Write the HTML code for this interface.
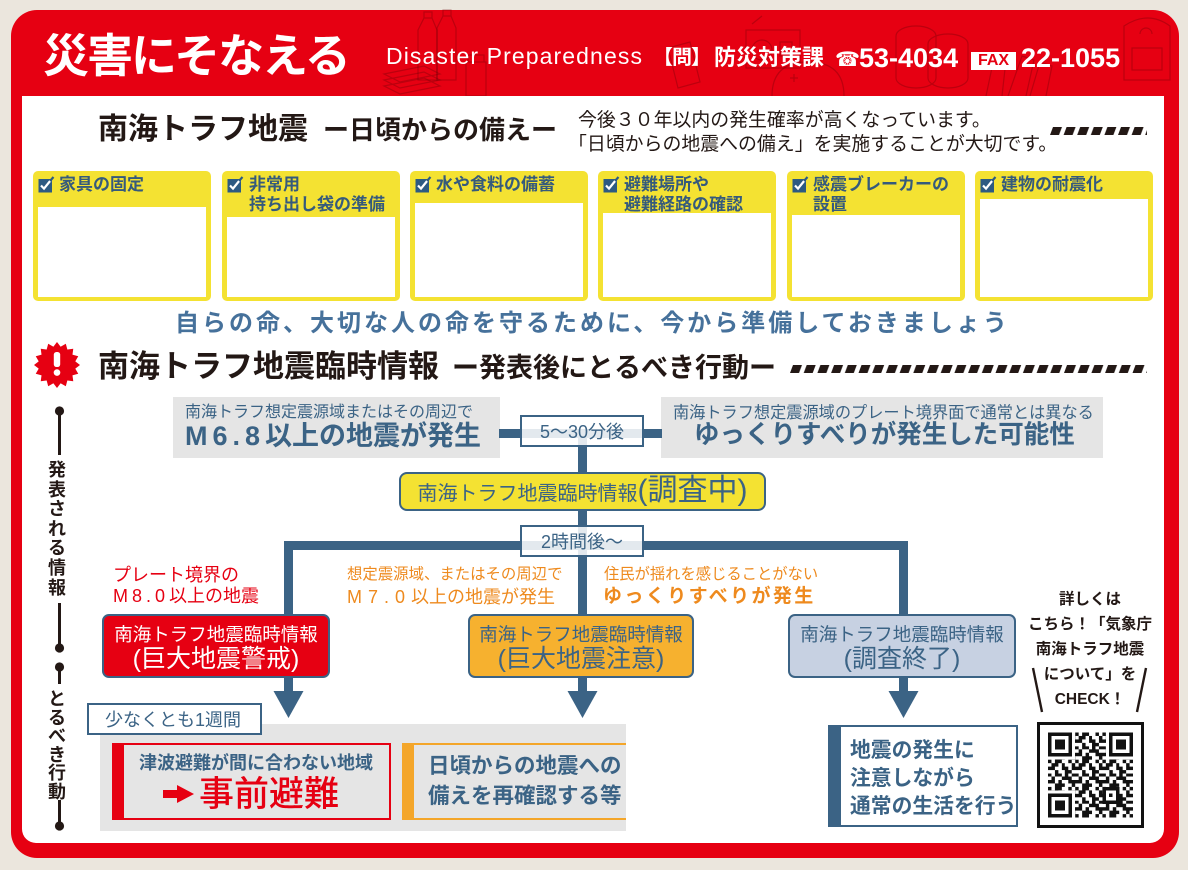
<!DOCTYPE html>
<html><head><meta charset="utf-8">
<style>
*{margin:0;padding:0;box-sizing:border-box}
body{width:1188px;height:870px;background:#ebe6dd;overflow:hidden;font-family:"Liberation Sans","Noto Sans CJK JP",sans-serif}
#w{position:relative;width:1188px;height:870px;overflow:hidden;background:#ebe6dd}
.a{position:absolute;white-space:nowrap;line-height:1}
.b{font-weight:700}
.B{color:#3b6385}
.k{color:#231815}
.ln{position:absolute;background:#3b6385}
.yb{position:absolute;top:171px;width:178px;height:130px;background:#f4e232;border-radius:5px}
.yw{position:absolute;left:5px;right:5px;bottom:4px;background:#fff}
.lab{position:absolute;top:175px;font-size:17px;line-height:20px;font-weight:700;color:#355a7c;white-space:nowrap}
.ck{position:absolute;top:176px}
.lbl{position:absolute;width:124px;height:32px;border:2px solid #3b6385;background:rgba(255,255,255,.86);font-size:18px;line-height:28px;padding-top:1px;text-align:center;color:#3b6385;white-space:nowrap}
.cb{position:absolute;top:614px;height:64px;border:2.5px solid #3b6385;border-radius:7px}
.ct{position:absolute;text-align:center;white-space:nowrap;line-height:1}
</style></head><body><div id="w">

<!-- red frame -->
<div class="a" style="left:11px;top:10px;width:1168px;height:848px;background:#e60012;border-radius:26px"></div>

<!-- faint header illustrations -->
<svg class="a" style="left:0;top:0" width="1188" height="100" fill="none" stroke="rgba(110,0,10,0.35)" stroke-width="1.2">
<path d="M418 30 l6 -12 h8 l5 12 v50 h-19z M424 18 v-6 h8 v6"/>
<path d="M437 28 l6 -12 h8 l5 12 v52 h-19z M443 16 v-6 h8 v6"/>
<path d="M384 74 l40 -8 l16 8 l-40 8z M384 80 l40 -8 l16 8 l-40 8z M384 86 l40 -8 l16 8 l-40 8z"/>
<path d="M466 62 h20 v34 h-20z M468 55 h16 v7 h-16z"/>
<path d="M668 48 l22 -6 l10 40 l-22 6z"/>
<path d="M746 30 h54 v38 h-54z M752 24 l10 -8 M780 42 h12 v14 h-12z"/>
<circle cx="762" cy="50" r="10"/>
<path d="M772 96 q0 -34 36 -34 q36 0 36 34 M790 78 h8 M794 74 v8"/>
<path d="M896 36 a10 5 0 0 1 40 0 v42 a10 5 0 0 1 -40 0z M928 44 a10 5 0 0 1 40 0 v34 a10 5 0 0 1 -40 0z"/>
<path d="M986 96 l8 -38 l12 2 l-4 36 M1008 96 l14 -40 l12 4 l-8 36 M1030 96 l10 -34 l12 4 l-6 30"/>
<path d="M1124 26 q24 -16 46 0 v54 h-46z M1132 48 h30 v22 h-30z M1140 34 a6 6 0 0 1 12 0"/>
</svg>

<!-- header text -->
<div class="a b" style="left:43px;top:33px;font-size:46px;letter-spacing:-2px;color:#fff">災害にそなえる</div>
<div class="a" style="left:386px;top:45px;font-size:23px;letter-spacing:1.1px;color:#fff">Disaster Preparedness</div>
<div class="a b" style="left:653px;top:48px;font-size:20px;color:#fff;letter-spacing:-1px">【問】</div>
<div class="a b" style="left:714px;top:47px;font-size:22px;color:#fff">防災対策課</div>
<div class="a" style="left:835px;top:49px;font-size:20px;color:#fff;font-family:'DejaVu Sans',sans-serif">☎</div>
<div class="a b" style="left:859px;top:45px;font-size:27px;color:#fff">53-4034</div>
<div class="a b" style="left:971px;top:52px;width:45px;height:18px;background:#fff;color:#e60012;font-size:16px;line-height:18px;text-align:center">FAX</div>
<div class="a b" style="left:1021px;top:45px;font-size:27px;color:#fff">22-1055</div>

<!-- white panel -->
<div class="a" style="left:22px;top:96px;width:1142px;height:747px;background:#fff;border-radius:0 0 14px 14px"></div>

<!-- section 1 title -->
<div class="a b k" style="left:98px;top:115px;font-size:30px">南海トラフ地震<span style="font-size:26px;margin-left:15px">ー日頃からの備えー</span></div>
<div class="a k" style="left:578px;top:112px;font-size:18.9px">今後３０年以内の発生確率が高くなっています。</div>
<div class="a k" style="left:568px;top:136px;font-size:18.9px">「日頃からの地震への備え」を実施することが大切です。</div>
<svg class="a" style="left:1050px;top:127px" width="100" height="9"><defs><pattern id="st1" width="13.6" height="9" patternUnits="userSpaceOnUse"><polygon points="3,0 12,0 9,8 0,8" fill="#231815"/></pattern></defs><rect width="97" height="9" fill="url(#st1)"/></svg>

<!-- yellow boxes -->
<div class="yb" style="left:33px"><div class="yw" style="top:36px"></div></div>
<div class="yb" style="left:222px"><div class="yw" style="top:46px"></div></div>
<div class="yb" style="left:410px"><div class="yw" style="top:32px"></div></div>
<div class="yb" style="left:598px"><div class="yw" style="top:42px"></div></div>
<div class="yb" style="left:787px"><div class="yw" style="top:44px"></div></div>
<div class="yb" style="left:975px"><div class="yw" style="top:28px"></div></div>

<svg class="ck" style="left:38px" width="17" height="17" viewBox="0 0 17 17"><rect x="0.5" y="3" width="13.5" height="13.5" fill="#2d5a82"/><path d="M3 9.5 L6 12.6 L12.5 4.5" stroke="#fff" stroke-width="2.2" fill="none"/><path d="M12 5 L15.5 1" stroke="#2d5a82" stroke-width="2.2"/></svg>
<svg class="ck" style="left:227px" width="17" height="17" viewBox="0 0 17 17"><rect x="0.5" y="3" width="13.5" height="13.5" fill="#2d5a82"/><path d="M3 9.5 L6 12.6 L12.5 4.5" stroke="#fff" stroke-width="2.2" fill="none"/><path d="M12 5 L15.5 1" stroke="#2d5a82" stroke-width="2.2"/></svg>
<svg class="ck" style="left:415px" width="17" height="17" viewBox="0 0 17 17"><rect x="0.5" y="3" width="13.5" height="13.5" fill="#2d5a82"/><path d="M3 9.5 L6 12.6 L12.5 4.5" stroke="#fff" stroke-width="2.2" fill="none"/><path d="M12 5 L15.5 1" stroke="#2d5a82" stroke-width="2.2"/></svg>
<svg class="ck" style="left:603px" width="17" height="17" viewBox="0 0 17 17"><rect x="0.5" y="3" width="13.5" height="13.5" fill="#2d5a82"/><path d="M3 9.5 L6 12.6 L12.5 4.5" stroke="#fff" stroke-width="2.2" fill="none"/><path d="M12 5 L15.5 1" stroke="#2d5a82" stroke-width="2.2"/></svg>
<svg class="ck" style="left:792px" width="17" height="17" viewBox="0 0 17 17"><rect x="0.5" y="3" width="13.5" height="13.5" fill="#2d5a82"/><path d="M3 9.5 L6 12.6 L12.5 4.5" stroke="#fff" stroke-width="2.2" fill="none"/><path d="M12 5 L15.5 1" stroke="#2d5a82" stroke-width="2.2"/></svg>
<svg class="ck" style="left:980px" width="17" height="17" viewBox="0 0 17 17"><rect x="0.5" y="3" width="13.5" height="13.5" fill="#2d5a82"/><path d="M3 9.5 L6 12.6 L12.5 4.5" stroke="#fff" stroke-width="2.2" fill="none"/><path d="M12 5 L15.5 1" stroke="#2d5a82" stroke-width="2.2"/></svg>

<div class="lab" style="left:59px">家具の固定</div>
<div class="lab" style="left:249px">非常用<br>持ち出し袋の準備</div>
<div class="lab" style="left:436px">水や食料の備蓄</div>
<div class="lab" style="left:624px">避難場所や<br>避難経路の確認</div>
<div class="lab" style="left:813px">感震ブレーカーの<br>設置</div>
<div class="lab" style="left:1001px">建物の耐震化</div>

<!-- tagline -->
<div class="a b" style="left:175px;top:312px;font-size:24px;letter-spacing:3px;color:#46719b">自らの命、大切な人の命を守るために、今から準備しておきましょう</div>

<!-- section 2 title -->
<svg class="a" style="left:33px;top:341px" width="48" height="48" viewBox="-24 -24 48 48">
<circle r="18" fill="#e60012"/>
<g fill="#e60012">
<polygon points="-4.6,-17 0,-23 4.6,-17"/>
<polygon points="-4.6,-17 0,-23 4.6,-17" transform="rotate(22.5)"/>
<polygon points="-4.6,-17 0,-23 4.6,-17" transform="rotate(45)"/>
<polygon points="-4.6,-17 0,-23 4.6,-17" transform="rotate(67.5)"/>
<polygon points="-4.6,-17 0,-23 4.6,-17" transform="rotate(90)"/>
<polygon points="-4.6,-17 0,-23 4.6,-17" transform="rotate(112.5)"/>
<polygon points="-4.6,-17 0,-23 4.6,-17" transform="rotate(135)"/>
<polygon points="-4.6,-17 0,-23 4.6,-17" transform="rotate(157.5)"/>
<polygon points="-4.6,-17 0,-23 4.6,-17" transform="rotate(180)"/>
<polygon points="-4.6,-17 0,-23 4.6,-17" transform="rotate(202.5)"/>
<polygon points="-4.6,-17 0,-23 4.6,-17" transform="rotate(225)"/>
<polygon points="-4.6,-17 0,-23 4.6,-17" transform="rotate(247.5)"/>
<polygon points="-4.6,-17 0,-23 4.6,-17" transform="rotate(270)"/>
<polygon points="-4.6,-17 0,-23 4.6,-17" transform="rotate(292.5)"/>
<polygon points="-4.6,-17 0,-23 4.6,-17" transform="rotate(315)"/>
<polygon points="-4.6,-17 0,-23 4.6,-17" transform="rotate(337.5)"/>
</g>
<rect x="-3.2" y="-13" width="6.4" height="15" rx="2.6" fill="#fff"/>
<circle cy="7.6" r="3.3" fill="#fff"/>
</svg>
<div class="a b k" style="left:98px;top:351px;font-size:31px">南海トラフ地震臨時情報<span style="font-size:27px;margin-left:13px">ー発表後にとるべき行動ー</span></div>
<svg class="a" style="left:790px;top:365px" width="360" height="9"><defs><pattern id="st2" width="13.7" height="9" patternUnits="userSpaceOnUse"><polygon points="3,0 12,0 9,8 0,8" fill="#231815"/></pattern></defs><rect width="357" height="9" fill="url(#st2)"/></svg>

<!-- timeline -->
<svg class="a" style="left:0;top:0" width="100" height="870">
<g stroke="#231815" stroke-width="3"><line x1="59.5" y1="411" x2="59.5" y2="455"/><line x1="59.5" y1="603" x2="59.5" y2="648"/><line x1="59.5" y1="667" x2="59.5" y2="684"/><line x1="59.5" y1="800" x2="59.5" y2="826"/></g>
<g fill="#231815"><circle cx="59.5" cy="411" r="4.6"/><circle cx="59.5" cy="648" r="4.6"/><circle cx="59.5" cy="667" r="4.6"/><circle cx="59.5" cy="826" r="4.6"/></g>
</svg>
<div class="a b k" style="left:46px;top:461px;width:22px;font-size:18px;line-height:19.6px;text-align:center;white-space:normal">発<br>表<br>さ<br>れ<br>る<br>情<br>報</div>
<div class="a b k" style="left:46px;top:690px;width:22px;font-size:18px;line-height:18.6px;text-align:center;white-space:normal">と<br>る<br>べ<br>き<br>行<br>動</div>

<!-- flowchart top -->
<div class="a" style="left:173px;top:397px;width:327px;height:61px;background:#e5e5e5"></div>
<div class="a" style="left:661px;top:397px;width:442px;height:61px;background:#e5e5e5"></div>
<div class="a B" style="left:185px;top:405px;font-size:16px">南海トラフ想定震源域またはその周辺で</div>
<div class="a B b" style="left:185px;top:423px;font-size:27px"><span style="letter-spacing:5px">M6.8</span>以上の地震が発生</div>
<div class="a B" style="left:673px;top:405px;font-size:16.2px">南海トラフ想定震源域のプレート境界面で通常とは異なる</div>
<div class="a B b" style="left:694px;top:423px;font-size:25.5px">ゆっくりすべりが発生した可能性</div>

<div class="ln" style="left:499px;top:429px;width:163px;height:9px"></div>
<div class="ln" style="left:578px;top:438px;width:9px;height:34px"></div>
<div class="ln" style="left:578px;top:511px;width:9px;height:30px"></div>
<div class="ln" style="left:284px;top:541px;width:624px;height:9px"></div>
<div class="ln" style="left:284px;top:541px;width:9px;height:73px"></div>
<div class="ln" style="left:578px;top:541px;width:9px;height:73px"></div>
<div class="ln" style="left:899px;top:541px;width:9px;height:73px"></div>
<div class="ln" style="left:284px;top:678px;width:9px;height:15px"></div>
<div class="ln" style="left:578px;top:678px;width:9px;height:15px"></div>
<div class="ln" style="left:899px;top:678px;width:9px;height:15px"></div>
<svg class="a" style="left:0;top:0" width="1188" height="870" fill="#3b6385"><polygon points="273.5,691 303.5,691 288.5,718"/><polygon points="567.5,691 597.5,691 582.5,718"/><polygon points="888.5,691 918.5,691 903.5,718"/></svg>

<div class="lbl" style="left:520px;top:415px">5〜30分後</div>
<div class="a" style="left:399px;top:472px;width:367px;height:39px;border:2.5px solid #3b6385;border-radius:8px;background:#f4e232"></div>
<div class="ct B" style="left:399px;top:476px;width:367px;font-size:30px">
<span style="font-size:20px">南海トラフ地震臨時情報</span>(調査中)</div>
<div class="lbl" style="left:520px;top:525px">2時間後〜</div>

<!-- condition texts -->
<div class="a" style="left:113px;top:566px;font-size:18px;color:#e60012">プレート境界の</div>
<div class="a" style="left:113px;top:587px;font-size:18px;color:#e60012"><span style="letter-spacing:4px">M8.0</span>以上の地震</div>
<div class="a" style="left:347px;top:567px;font-size:15.4px;color:#ee8a1e">想定震源域、またはその周辺で</div>
<div class="a" style="left:347px;top:588px;font-size:18px;color:#ee8a1e"><span style="letter-spacing:6px">M7.0</span>以上の地震が発生</div>
<div class="a" style="left:604px;top:567px;font-size:15.3px;color:#ee8a1e">住民が揺れを感じることがない</div>
<div class="a b" style="left:603px;top:587px;font-size:19px;letter-spacing:2.4px;color:#ee8a1e">ゆっくりすべりが発生</div>

<!-- info boxes -->
<div class="cb" style="left:102px;width:228px;background:#e60012"></div>
<div class="cb" style="left:468px;width:226px;background:#f6b12f"></div>
<div class="cb" style="left:788px;width:228px;background:#c7d1e2"></div>
<div class="ct" style="left:102px;top:626px;width:228px;font-size:18.5px;color:#fff">南海トラフ地震臨時情報</div>
<div class="ct" style="left:102px;top:647px;width:228px;font-size:25px;color:#fff">(巨大地震警戒)</div>
<div class="ct B" style="left:468px;top:626px;width:226px;font-size:18.5px">南海トラフ地震臨時情報</div>
<div class="ct B" style="left:468px;top:647px;width:226px;font-size:25px">(巨大地震注意)</div>
<div class="ct B" style="left:788px;top:626px;width:228px;font-size:18.5px">南海トラフ地震臨時情報</div>
<div class="ct B" style="left:788px;top:647px;width:228px;font-size:25px">(調査終了)</div>

<!-- actions -->
<div class="a" style="left:100px;top:724px;width:526px;height:107px;background:#e5e5e5"></div>
<div class="a" style="left:87px;top:703px;width:175px;height:32px;border:2px solid #3b6385;background:#fff"></div>
<div class="a B" style="left:105px;top:711px;font-size:18px">少なくとも1週間</div>

<div class="a" style="left:112px;top:743px;width:279px;height:77px;border:2px solid #e60012;border-left:12px solid #e60012"></div>
<div class="a B b" style="left:139px;top:754px;font-size:18px">津波避難が間に合わない地域</div>
<svg class="a" style="left:160px;top:782px" width="38" height="24" fill="#e60012"><rect x="3" y="8" width="16" height="8"/><polygon points="17,3 34,12 17,21"/></svg>
<div class="a" style="left:199px;top:777px;font-size:35px;font-weight:500;color:#e60012">事前避難</div>

<div class="a" style="left:402px;top:743px;width:224px;height:77px;border-top:2px solid #f4a62a;border-bottom:2px solid #f4a62a;border-left:12px solid #f4a62a"></div>
<div class="a B b" style="left:428px;top:756px;font-size:21.5px">日頃からの地震への</div>
<div class="a B b" style="left:428px;top:786px;font-size:21.5px">備えを再確認する等</div>

<div class="a" style="left:828px;top:725px;width:190px;height:102px;background:#fff;border:2px solid #3b6385;border-left:13px solid #3b6385"></div>
<div class="a B b" style="left:850px;top:741px;font-size:20.8px">地震の発生に</div>
<div class="a B b" style="left:850px;top:769px;font-size:20.8px">注意しながら</div>
<div class="a B b" style="left:850px;top:797px;font-size:20.8px">通常の生活を行う</div>

<!-- QR side text -->
<div class="a b k" style="left:1025px;top:587px;width:130px;font-size:15.5px;line-height:25px;text-align:center">詳しくは<br>こちら！「気象庁<br>南海トラフ地震<br>について」を<br>CHECK！</div>
<svg class="a" style="left:1028px;top:664px" width="124" height="52" stroke="#231815" stroke-width="2.4"><line x1="5" y1="4" x2="14" y2="48"/><line x1="118" y1="4" x2="109" y2="48"/></svg>

<!-- QR -->
<div class="a" style="left:1037px;top:722px;width:107px;height:106px;border:3.5px solid #111;background:#fff"></div>
<svg class="a" style="left:1048px;top:732px" width="85" height="86" viewBox="0 0 25 25" shape-rendering="crispEdges">
<defs><pattern id="qp" width="8" height="8" patternUnits="userSpaceOnUse"><path fill="#111" d="M0 0h1v1h-1z M2 0h2v1h-2z M6 0h1v1h-1z M1 1h2v1h-2z M4 1h1v1h-1z M7 1h1v1h-1z M0 2h2v1h-2z M4 2h2v1h-2z M7 2h1v1h-1z M2 3h1v1h-1z M5 3h2v1h-2z M0 4h1v1h-1z M2 4h2v1h-2z M5 4h1v1h-1z M7 4h1v1h-1z M1 5h1v1h-1z M4 5h3v1h-3z M0 6h2v1h-2z M3 6h1v1h-1z M6 6h2v1h-2z M2 7h3v1h-3z M7 7h1v1h-1z"/></pattern></defs>
<rect width="25" height="25" fill="url(#qp)"/>
<g fill="#fff"><rect width="8" height="8"/><rect x="17" width="8" height="8"/><rect y="17" width="8" height="8"/></g>
<g fill="#111"><rect width="7" height="7"/><rect x="18" width="7" height="7"/><rect y="18" width="7" height="7"/></g>
<g fill="#fff"><rect x="1" y="1" width="5" height="5"/><rect x="19" y="1" width="5" height="5"/><rect x="1" y="19" width="5" height="5"/></g>
<g fill="#111"><rect x="2" y="2" width="3" height="3"/><rect x="20" y="2" width="3" height="3"/><rect x="2" y="20" width="3" height="3"/></g>
<rect x="16" y="16" width="5" height="5" fill="#111"/><rect x="17" y="17" width="3" height="3" fill="#fff"/><rect x="18" y="18" width="1" height="1" fill="#111"/>
</svg>

</div></body></html>
